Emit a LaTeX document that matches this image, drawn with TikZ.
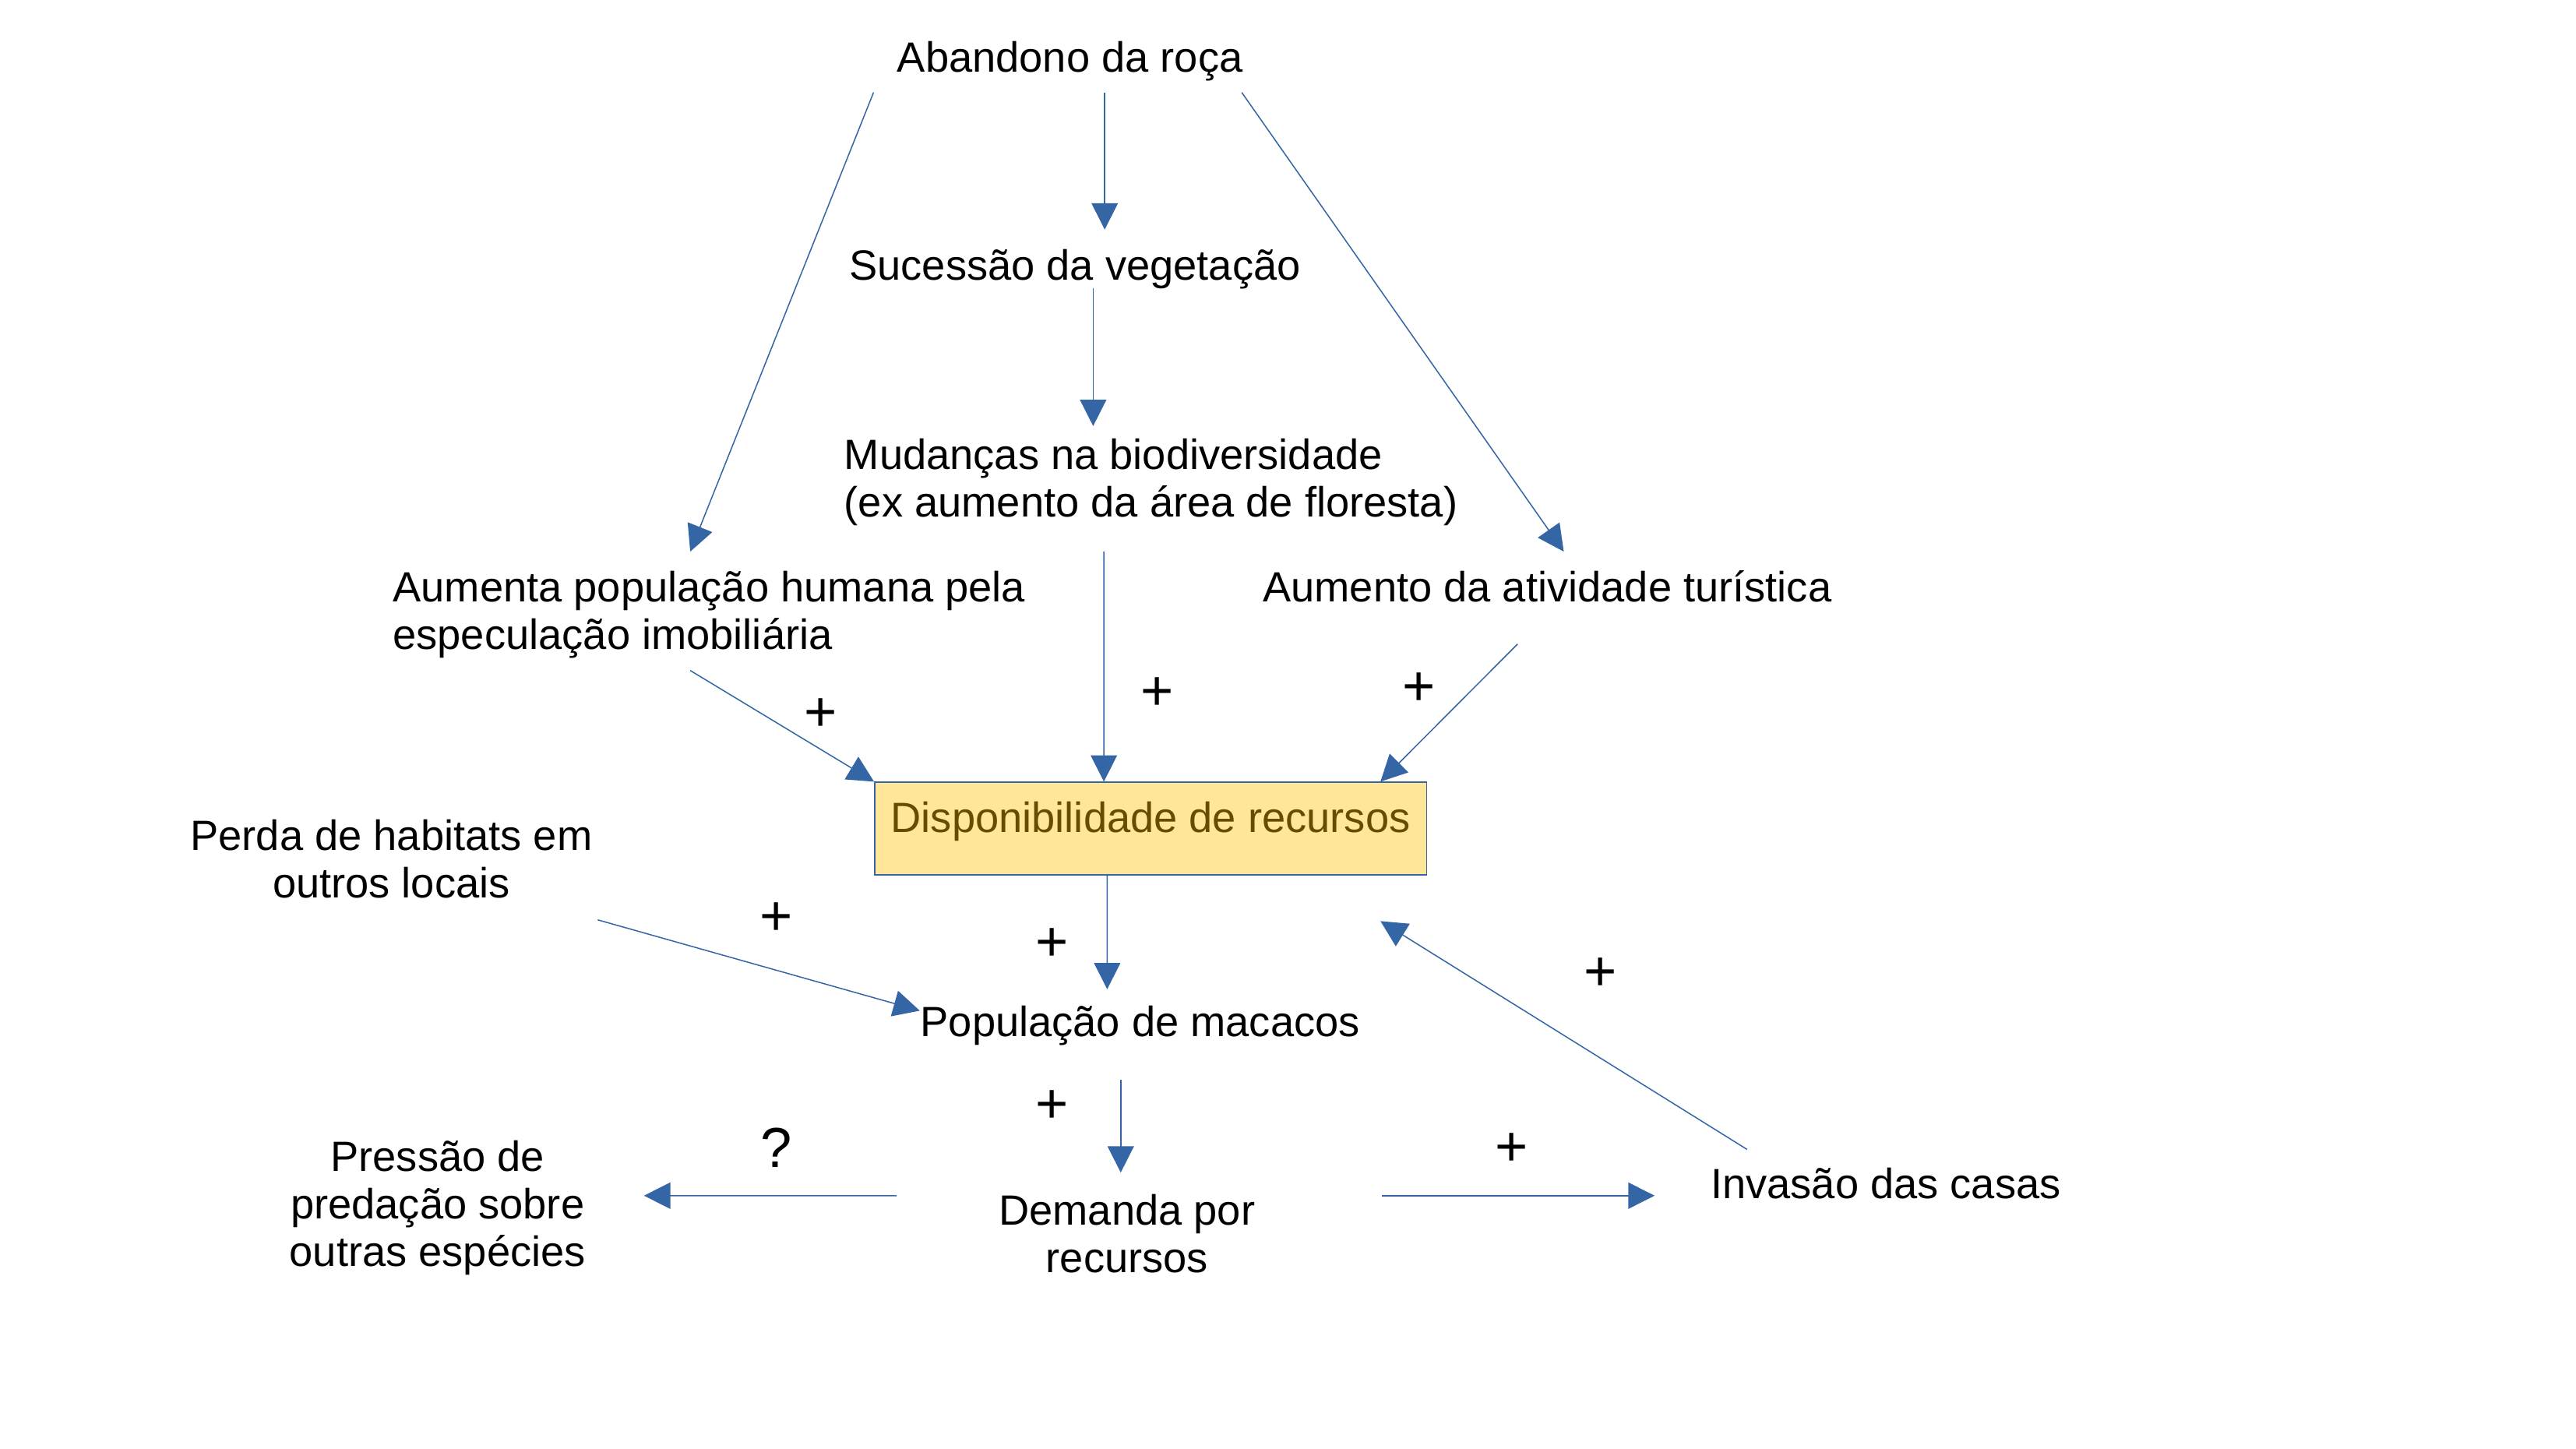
\documentclass[tikz,border=0pt]{standalone}
\usepackage{fontspec}
\setmainfont{Liberation Sans}
\usetikzlibrary{arrows.meta,calc}
\definecolor{lnblue}{HTML}{3465A4}
\definecolor{boxfill}{HTML}{FFE699}
\definecolor{boxtext}{HTML}{664C00}
\def\px{0.703pt}
\begin{document}
\begin{tikzpicture}[x=0.703pt,y=-0.703pt,
  lbl/.style={inner sep=0pt,font=\fontsize{18}{20.3}\selectfont},
  sign/.style={inner sep=0pt,font=\fontsize{24}{28}\selectfont},
  arr/.style={draw=lnblue,line width=0.5pt,-{Triangle[length=11.2pt,width=11.2pt]},fill=lnblue}]
\useasboundingbox (0,0) rectangle (1560,877.4);
% nodes
\node[lbl,anchor=base] (abandono) at (648,43.4) {Abandono da roça};
\node[lbl,anchor=base] (sucessao) at (651,169.5) {Sucessão da vegetação};
\node[lbl,anchor=north west,align=left] (mudancas) at (511,265.5) {Mudanças na biodiversidade\\(ex aumento da área de floresta)};
\node[lbl,anchor=north west,align=left] (aumenta) at (237.7,345.6) {Aumenta população humana pela\\especulação imobiliária};
\node[lbl,anchor=base] (turistica) at (937,364.6) {Aumento da atividade turística};
\node[lbl,anchor=north west,draw=lnblue,line width=0.5pt,fill=boxfill,text=boxtext,
  minimum width=334.3*\px,text height=21.2pt,text depth=18.2pt,inner xsep=0pt,inner ysep=0pt]
  (box) at (529.3,473.3) {Disponibilidade de recursos};
\node[lbl,anchor=base] (populacao) at (690.5,627.8) {População de macacos};
\node[lbl,anchor=north,align=center] (perda) at (237,496) {Perda de habitats em\\outros locais};
\node[lbl,anchor=north,align=center] (pressao) at (265,690.4) {Pressão de\\predação sobre\\outras espécies};
\node[lbl,anchor=north,align=center] (demanda) at (682.5,723) {Demanda por\\recursos};
\node[lbl,anchor=base] (invasao) at (1142,725.6) {Invasão das casas};
% signs
\node[sign] (p1) at (497,433) {+};
\node[sign] (p2) at (701,420) {+};
\node[sign] (p3) at (859.5,417.5) {+};
\node[sign] (p4) at (470,556.6) {+};
\node[sign] (p5) at (637,572) {+};
\node[sign] (p6) at (969,590) {+};
\node[sign] (p7) at (637,670) {+};
\node[sign] (p8) at (915.5,696) {+};
\node[sign] (q1) at (470,695) {?};
% connectors
\draw[arr] ($(abandono.base)+(-119,12.6)$) -- ($(aumenta.north west)+(180.3,-11.6)$);
\draw[arr] ($(abandono.base)+(21,12.6)$) -- ($(sucessao.base)+(18,-30.5)$);
\draw[arr] ($(abandono.base)+(104,12.6)$) -- ($(turistica.base)+(10,-30.6)$);
\draw[arr] ($(sucessao.base)+(11,5)$) -- ($(mudancas.north west)+(151,-7.5)$);
\draw[arr] ($(mudancas.north west)+(157.5,68.5)$) -- ($(box.north west)+(139.2,0)$);
\draw[arr] ($(aumenta.north west)+(180.3,60.4)$) -- (box.north west);
\draw[arr] ($(turistica.base)+(-18,25.4)$) -- ($(box.north west)+(306.7,0)$);
\draw[arr] ($(box.south west)+(141.2,0)$) -- ($(populacao.base)+(-20,-28.8)$);
\draw[arr] ($(perda.north)+(125,61)$) -- ($(populacao.base)+(-133.5,-15.8)$);
\draw[arr] ($(populacao.base)+(-11.8,26.2)$) -- ($(demanda.north)+(-3.8,-13)$);
\draw[arr] ($(demanda.north)+(-139.5,1)$) -- ($(pressao.north)+(125,33.6)$);
\draw[arr] ($(demanda.north)+(154.3,1)$) -- ($(invasao.base)+(-140,-1.6)$);
\draw[arr] ($(invasao.base)+(-84,-29.6)$) -- ($(box.south west)+(306.7,27.7)$);
\end{tikzpicture}
\end{document}
